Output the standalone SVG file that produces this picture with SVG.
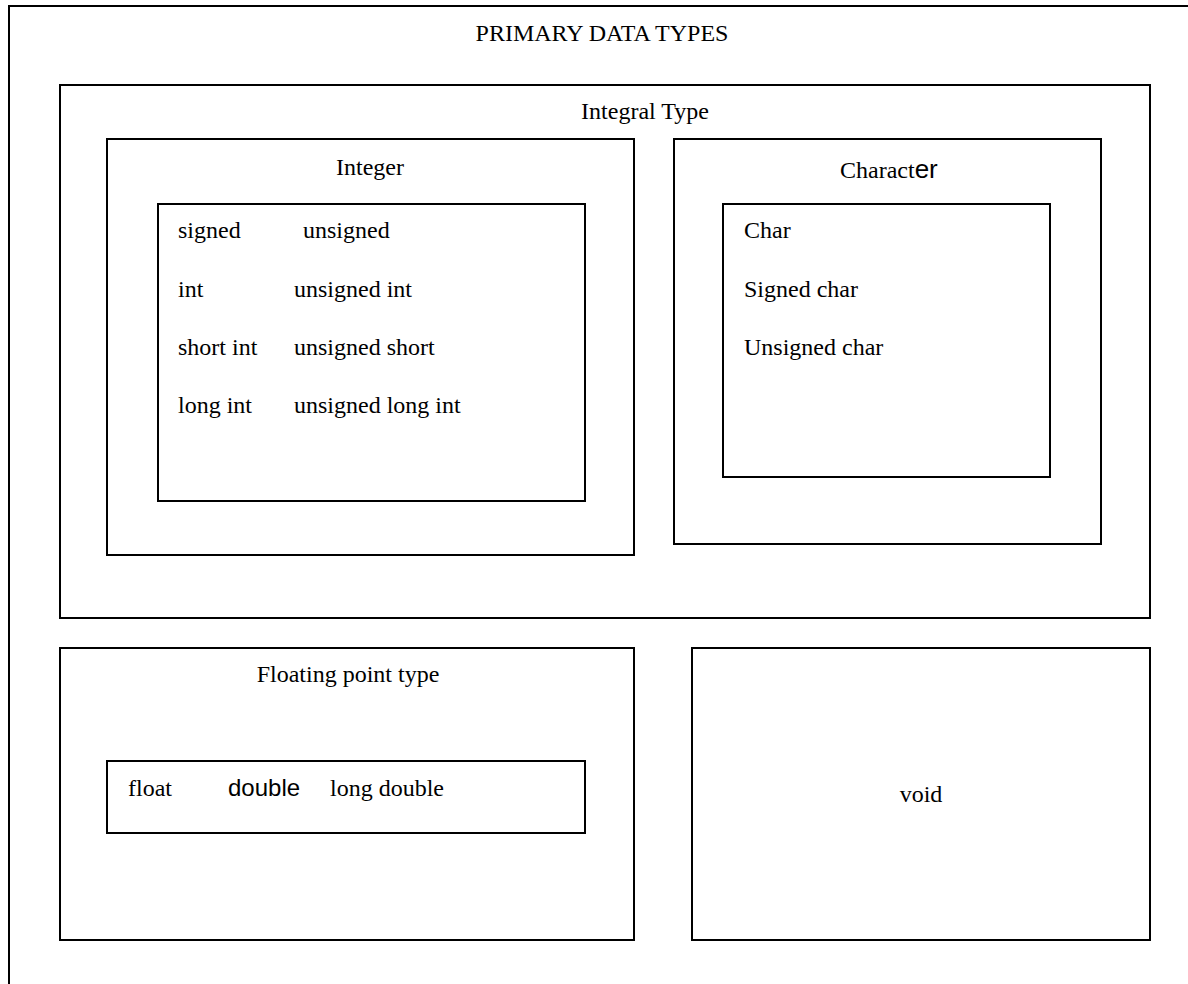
<svg xmlns="http://www.w3.org/2000/svg" width="1188" height="984" viewBox="0 0 1188 984">
  <style>
    .box { fill: none; stroke: #000; stroke-width: 2; }
    .t { font-family: "Liberation Serif", "Times New Roman", serif; font-size: 24px; fill: #000; }
    .mid { text-anchor: middle; }
    .sans { font-family: "Liberation Sans", Arial, sans-serif; }
  </style>
  <rect width="1188" height="984" fill="#fff"/>

  <g id="primary">
    <path class="box" d="M9,990 V6 H1200"/>
    <text class="t mid" x="602" y="41">PRIMARY DATA TYPES</text>
  </g>

  <g id="integral">
    <rect class="box" x="60" y="85" width="1090" height="533"/>
    <text class="t mid" x="645" y="119">Integral Type</text>
  </g>

  <g id="integer">
    <rect class="box" x="107" y="139" width="527" height="416"/>
    <text class="t mid" x="370" y="175">Integer</text>
  </g>

  <g id="integer-list">
    <rect class="box" x="158" y="204" width="427" height="297"/>
    <text class="t" x="178" y="238">signed</text>
    <text class="t" x="303" y="238">unsigned</text>
    <text class="t" x="178" y="297">int</text>
    <text class="t" x="294" y="297">unsigned int</text>
    <text class="t" x="178" y="355">short int</text>
    <text class="t" x="294" y="355">unsigned short</text>
    <text class="t" x="178" y="413">long int</text>
    <text class="t" x="294" y="413">unsigned long int</text>
  </g>

  <g id="character">
    <rect class="box" x="674" y="139" width="427" height="405"/>
    <text class="t" x="840" y="178">Charact<tspan class="sans" font-size="26">er</tspan></text>
  </g>

  <g id="character-list">
    <rect class="box" x="723" y="204" width="327" height="273"/>
    <text class="t" x="744" y="238">Char</text>
    <text class="t" x="744" y="297">Signed char</text>
    <text class="t" x="744" y="355">Unsigned char</text>
  </g>

  <g id="floating">
    <rect class="box" x="60" y="648" width="574" height="292"/>
    <text class="t mid" x="348" y="682">Floating point type</text>
  </g>

  <g id="floating-list">
    <rect class="box" x="107" y="761" width="478" height="72"/>
    <text class="t" x="128" y="796">float</text>
    <text class="t sans" x="228" y="796" font-size="20">double</text>
    <text class="t" x="330" y="796">long double</text>
  </g>

  <g id="void">
    <rect class="box" x="692" y="648" width="458" height="292"/>
    <text class="t mid" x="921" y="802">void</text>
  </g>

  <g id="connectors"></g>
</svg>
